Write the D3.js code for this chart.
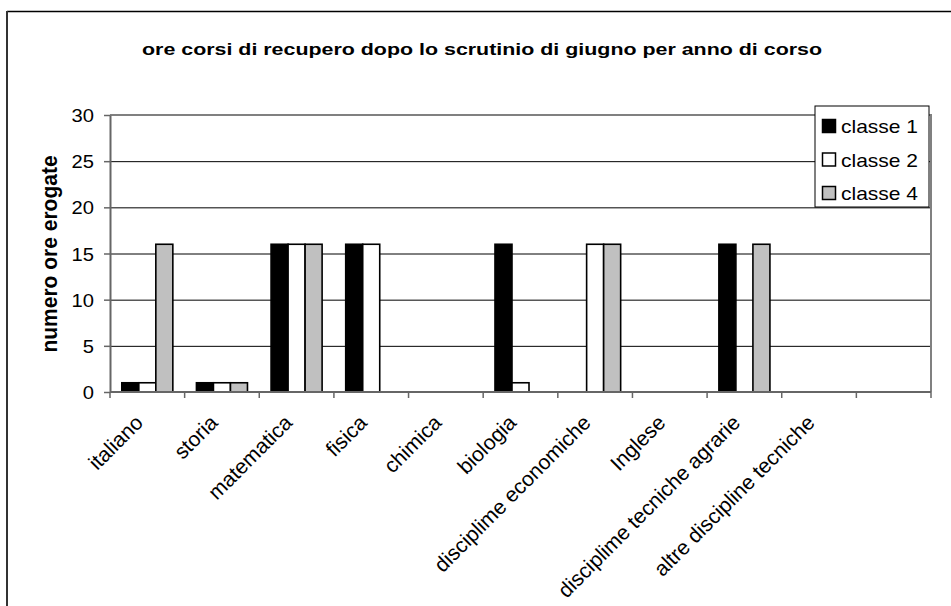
<!DOCTYPE html>
<html>
<head>
<meta charset="utf-8">
<script src="https://cdn.jsdelivr.net/npm/d3@7"></script>
<style>
  body { margin: 0; background: #fff; }
  text { font-family: Arial, "Liberation Sans", sans-serif; fill: #000; }
</style>
</head>
<body>
<svg id="chart" width="951" height="606"></svg>
<script>
// data
const categories = ["italiano", "storia", "matematica", "fisica", "chimica", "biologia",
  "disciplime economiche", "Inglese", "disciplime tecniche agrarie", "altre discipline tecniche", ""];
const seriesNames = ["classe 1", "classe 2", "classe 4"];
const classe1 = [1, 1, 16, 16, 0, 16, 0, 0, 16, 0, null];
const classe2 = [1, 1, 16, 16, 0, 1, 16, 0, 0, 0, null];
const classe4 = [16, 1, 16, 0, 0, 0, 16, 0, 16, 0, null];
const yTicks = [0, 5, 10, 15, 20, 25, 30];
const colors = ["#000000", "#ffffff", "#c0c0c0"];

const svg = d3.select("#chart");

let plot = { left: 110, right: 931, top: 115, bottom: 392 };
let stretch = 1.09; // text in the picture is a bit wider than plain Arial

// outer chart border (runs off the right and bottom edge)
svg.append("line").attr("x1", 7).attr("y1", 11.5).attr("x2", 951).attr("y2", 11.5)
  .style("stroke", "#000").style("stroke-width", 1.5);
svg.append("line").attr("x1", 7).attr("y1", 11).attr("x2", 7).attr("y2", 606)
  .style("stroke", "#333").style("stroke-width", 2);

// title
svg.append("text")
  .attr("x", 142).attr("y", 55)
  .attr("textLength", 680).attr("lengthAdjust", "spacingAndGlyphs")
  .style("font-size", "17px").style("font-weight", "bold")
  .text("ore corsi di recupero dopo lo scrutinio di giugno per anno di corso");

let x = d3.scaleBand()
  .domain(categories)
  .range([plot.left, plot.right])
  .padding(0);

let xSub = d3.scaleBand()
  .domain(seriesNames)
  .range([11.8, x.bandwidth() - 11.8])
  .padding(0);

let y = d3.scaleLinear()
  .domain([0, 30])
  .range([plot.bottom, plot.top]);

// gridlines
svg.append("g").selectAll("line")
  .data(yTicks.filter(d => d > 0 && d < 30))
  .enter().append("line")
  .attr("x1", plot.left).attr("x2", plot.right)
  .attr("y1", d => y(d) + 0.5).attr("y2", d => y(d) + 0.5)
  .style("stroke", "#000").style("stroke-width", 1);

// plot frame top and right
svg.append("path")
  .attr("d", `M${plot.left},${plot.top}H${plot.right}V${plot.bottom}`)
  .style("fill", "none").style("stroke", "#808080").style("stroke-width", 2);

// bars
let series = [classe1, classe2, classe4];
let barData = [];
categories.forEach((c, i) => {
  series.forEach((s, j) => {
    if (s[i]) barData.push({ cat: c, name: seriesNames[j], value: s[i], color: colors[j] });
  });
});

svg.append("g").attr("id", "bars")
  .selectAll("rect")
  .data(barData)
  .enter().append("rect")
  .attr("x", d => x(d.cat) + xSub(d.name))
  .attr("y", d => y(d.value))
  .attr("width", xSub.bandwidth())
  .attr("height", d => plot.bottom - y(d.value))
  .style("fill", d => d.color)
  .style("stroke", "#000").style("stroke-width", 1.6);

// y axis
let yaxis = d3.axisLeft(y).tickValues(yTicks).tickSize(6).tickPadding(8).tickSizeOuter(0);
let yg = svg.append("g").attr("transform", `translate(${plot.left},0)`).call(yaxis);
yg.select(".domain").style("stroke", "#666").style("stroke-width", 2);
yg.selectAll(".tick line").style("stroke", "#666").style("stroke-width", 1.5);
yg.selectAll(".tick text")
  .attr("x", null).attr("dy", null)
  .attr("text-anchor", "end")
  .attr("transform", d => `translate(-16,6.5) scale(${stretch},1)`)
  .style("font-size", "18.5px").style("font-family", "Arial, 'Liberation Sans', sans-serif");

// x axis: ticks at category boundaries
let xg = svg.append("g").attr("transform", `translate(0,${plot.bottom})`);
xg.append("line").attr("x1", plot.left).attr("x2", plot.right).attr("y1", 0).attr("y2", 0)
  .style("stroke", "#666").style("stroke-width", 2);
xg.selectAll(".xtick")
  .data(categories.map(c => x(c)).concat([plot.right]))
  .enter().append("line")
  .attr("class", "xtick")
  .attr("x1", d => d).attr("x2", d => d).attr("y1", 0).attr("y2", 6)
  .style("stroke", "#666").style("stroke-width", 1.5);

xg.selectAll(".xlabel")
  .data(categories)
  .enter().append("text")
  .attr("class", "xlabel")
  .attr("text-anchor", "end")
  .attr("transform", d => `translate(${x(d) + x.bandwidth() / 2 - 3},32) rotate(-45)`)
  .style("font-size", "21px")
  .text(d => d);

// y axis title
svg.append("text")
  .attr("text-anchor", "middle")
  .attr("transform", "translate(57,254) scale(1.08,1) rotate(-90)")
  .style("font-size", "21px").style("font-weight", "bold")
  .text("numero ore erogate");

// legend
let legend = svg.append("g").attr("transform", "translate(815,106)");
legend.append("rect").attr("x", 0).attr("y", 0).attr("width", 114).attr("height", 101)
  .style("fill", "#fff").style("stroke", "#000").style("stroke-width", 1);
let rows = legend.selectAll(".row")
  .data(seriesNames)
  .enter().append("g")
  .attr("class", "row")
  .attr("transform", (d, i) => `translate(0,${20 + i * 33.5})`);
rows.append("rect")
  .attr("x", 7.5).attr("y", -6.5).attr("width", 13).attr("height", 13)
  .style("fill", (d, i) => colors[i]).style("stroke", "#000").style("stroke-width", 1.5);
rows.append("text")
  .attr("x", 26).attr("y", 7)
  .attr("textLength", 77).attr("lengthAdjust", "spacingAndGlyphs")
  .style("font-size", "18.5px")
  .text(d => d);
</script>
</body>
</html>
